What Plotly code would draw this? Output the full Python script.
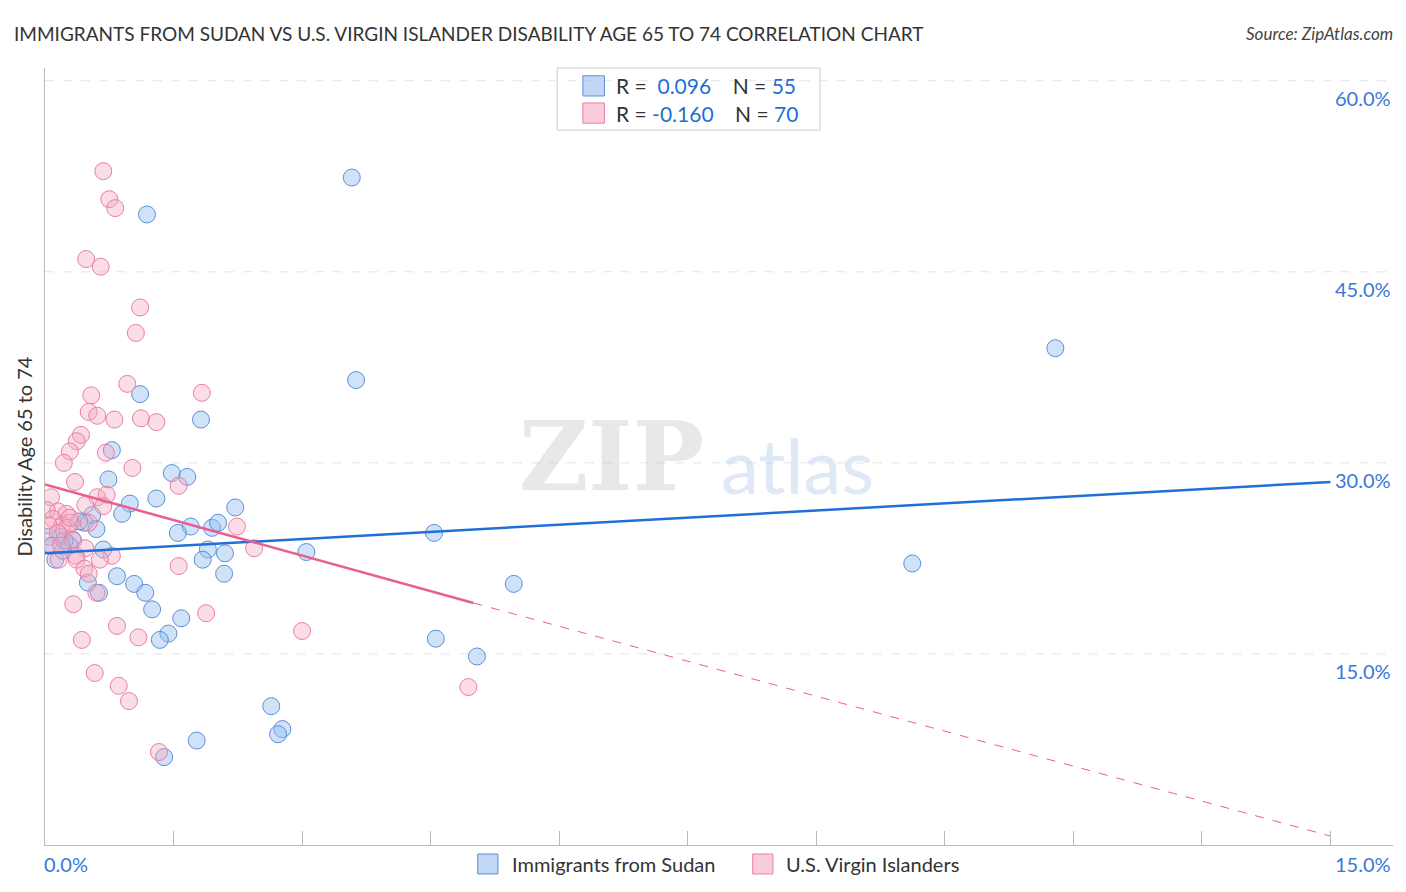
import plotly.graph_objects as go

blue_x = [1.19,3.58,11.79,3.63,1.11,1.82,0.78,1.48,1.66,0.74,1.30,0.99,0.90,2.22,0.55,0.46,0.60,1.70,1.95,2.02,1.55,4.54,0.18,0.32,0.04,1.90,2.10,3.05,0.68,0.29,0.12,1.84,10.12,2.09,0.84,0.50,1.04,5.47,1.17,0.63,1.25,1.59,1.44,1.34,4.56,5.04,2.64,2.77,2.72,1.77,1.39,0.21,0.08,0.40,0.23]
blue_y = [49.5,52.4,39.0,36.5,35.4,33.4,31.0,29.2,28.9,28.7,27.2,26.8,26.0,26.5,25.9,25.3,24.8,25.0,24.9,25.3,24.5,24.5,24.2,24.0,24.2,23.2,22.9,23.0,23.2,23.5,22.4,22.4,22.1,21.3,21.1,20.6,20.5,20.5,19.8,19.8,18.5,17.8,16.6,16.1,16.2,14.8,10.9,9.1,8.7,8.2,6.9,23.1,23.5,25.4,23.9]
pink_x = [0.68,0.75,0.82,0.48,0.65,1.11,1.06,0.96,1.83,0.54,0.51,0.61,0.81,1.12,1.30,0.42,0.37,0.29,0.71,0.22,1.02,0.35,1.56,0.07,0.61,0.72,0.68,0.47,0.15,0.02,0.25,0.09,0.30,0.20,0.04,0.51,2.24,0.26,0.15,0.33,0.08,0.47,0.36,0.78,2.44,0.16,0.37,0.46,0.51,1.56,0.60,0.33,1.88,0.84,1.09,0.43,3.00,0.58,0.86,4.94,0.98,1.33,0.19,0.29,0.64]
pink_y = [52.9,50.7,50.0,46.0,45.4,42.2,40.2,36.2,35.5,35.3,34.0,33.7,33.4,33.5,33.2,32.2,31.7,30.9,30.8,30.0,29.6,28.5,28.2,27.3,27.3,27.5,26.6,26.7,26.2,26.3,26.0,25.6,25.3,25.1,25.1,25.3,25.0,24.9,24.5,23.9,23.5,23.3,22.7,22.7,23.3,22.4,22.4,21.7,21.3,21.9,19.8,18.9,18.2,17.2,16.3,16.1,16.8,13.5,12.5,12.4,11.3,7.3,23.5,25.7,22.4]
blue_line_x = [0, 15]; blue_line_y = [22.9, 28.5]
pink_solid_x = [0, 5.0]; pink_solid_y = [28.3, 19.0]
pink_dash_x = [5.0, 15]; pink_dash_y = [19.0, 0.7]
y_ticks = [15, 30, 45, 60]
series_names = ["Immigrants from Sudan", "U.S. Virgin Islanders"]

BFILL = "rgba(150,190,240,0.45)"; BLINE = "#5b8fd8"
PFILL = "rgba(244,170,195,0.4)"; PLINE = "#e87fa3"

fig = go.Figure()
fig.add_trace(go.Scatter(x=blue_x, y=blue_y, mode="markers", name=series_names[0], showlegend=False,
    marker=dict(size=17, color=BFILL, line=dict(color=BLINE, width=1))))
fig.add_trace(go.Scatter(x=pink_x, y=pink_y, mode="markers", name=series_names[1], showlegend=False,
    marker=dict(size=17, color=PFILL, line=dict(color=PLINE, width=1))))
fig.add_trace(go.Scatter(x=blue_line_x, y=blue_line_y, mode="lines", line=dict(color="#1f6fd6", width=2.5), showlegend=False))
fig.add_trace(go.Scatter(x=pink_solid_x, y=pink_solid_y, mode="lines", line=dict(color="#e8608f", width=2.5), showlegend=False))
fig.add_trace(go.Scatter(x=pink_dash_x, y=pink_dash_y, mode="lines", line=dict(color="#e8608f", width=1, dash="dash"), showlegend=False))

ann = [
 dict(text="IMMIGRANTS FROM SUDAN VS U.S. VIRGIN ISLANDER DISABILITY AGE 65 TO 74 CORRELATION CHART", x=-0.0245, y=1.045, xref="paper", yref="paper", xanchor="left", yanchor="middle", showarrow=False, font=dict(size=19, color="#333")),
 dict(text="<i>Source: ZipAtlas.com</i>", x=1.0015, y=1.045, xref="paper", yref="paper", xanchor="right", yanchor="middle", showarrow=False, font=dict(size=17, color="#444")),
 dict(text="0.0%", x=-0.002, y=-0.024, xref="paper", yref="paper", xanchor="left", yanchor="middle", showarrow=False, font=dict(size=20, color="#3a78d8")),
 dict(text="15.0%", x=1, y=-0.024, xref="paper", yref="paper", xanchor="right", yanchor="middle", showarrow=False, font=dict(size=20, color="#3a78d8")),
 dict(text="<b>ZIP</b>", x=0.49, y=0.5, xref="paper", yref="paper", xanchor="right", showarrow=False, font=dict(size=95, color="rgba(190,190,190,0.35)", family="DejaVu Serif")),
 dict(text="atlas", x=0.5, y=0.49, xref="paper", yref="paper", xanchor="left", showarrow=False, font=dict(size=76, color="rgba(160,190,230,0.35)")),
 dict(text="R =  <span style='color:#1f6fd6'>0.096</span>    N = <span style='color:#1f6fd6'>55</span>", x=0.422, y=0.977, xref="paper", yref="paper", xanchor="left", yanchor="middle", showarrow=False, font=dict(size=21, color="#333")),
 dict(text="R = <span style='color:#1f6fd6'>-0.160</span>    N = <span style='color:#1f6fd6'>70</span>", x=0.422, y=0.942, xref="paper", yref="paper", xanchor="left", yanchor="middle", showarrow=False, font=dict(size=21, color="#333")),
 dict(text=series_names[0], x=0.345, y=-0.025, xref="paper", yref="paper", xanchor="left", yanchor="middle", showarrow=False, font=dict(size=20, color="#333")),
 dict(text=series_names[1], x=0.548, y=-0.025, xref="paper", yref="paper", xanchor="left", yanchor="middle", showarrow=False, font=dict(size=20, color="#333")),
]
for t in y_ticks:
    ann.append(dict(text=f"{t:.1f}%", x=1, y=t, xref="paper", yref="y", xanchor="right", yanchor="middle", yshift=-17, showarrow=False, font=dict(size=20, color="#3a78d8")))

shapes = [
 dict(type="rect", xref="paper", yref="paper", x0=0.38, x1=0.575, y0=0.92, y1=1.0, line=dict(color="#ccc", width=1), fillcolor="white", layer="below"),
 dict(type="rect", xref="paper", yref="paper", x0=0.399, x1=0.415, y0=0.964, y1=0.990, line=dict(color=BLINE, width=1), fillcolor="rgba(150,190,240,0.6)"),
 dict(type="rect", xref="paper", yref="paper", x0=0.399, x1=0.415, y0=0.929, y1=0.955, line=dict(color=PLINE, width=1), fillcolor="rgba(244,170,195,0.6)"),
 dict(type="rect", xref="paper", yref="paper", x0=0.321, x1=0.336, y0=-0.0116, y1=-0.0373, line=dict(color=BLINE, width=1), fillcolor="rgba(150,190,240,0.6)"),
 dict(type="rect", xref="paper", yref="paper", x0=0.525, x1=0.540, y0=-0.0116, y1=-0.0373, line=dict(color=PLINE, width=1), fillcolor="rgba(244,170,195,0.6)"),
]
for t in y_ticks:
    shapes.append(dict(type="line", xref="paper", yref="y", x0=0, x1=1, y0=t, y1=t, line=dict(color="#e4e4e4", width=1, dash="dash"), layer="below"))

fig.update_layout(
    width=1390, height=876, paper_bgcolor="white", plot_bgcolor="white",
    margin=dict(l=37, r=5, t=60, b=39),
    font=dict(family="Lato", color="#333"),
    showlegend=False,
    xaxis=dict(range=[0, 15.73], showgrid=False, zeroline=False, showline=True, linecolor="#bbb", automargin=False,
               ticks="inside", ticklen=14, tickcolor="#bbb", tick0=0, dtick=1.5, showticklabels=False),
    yaxis=dict(range=[0, 61], showgrid=False, zeroline=False, showline=True, linecolor="#bbb", showticklabels=False, automargin=False,
               title=dict(text="Disability Age 65 to 74", font=dict(size=20), standoff=6)),
    annotations=ann, shapes=shapes,
)
fig.write_html("out.html")
